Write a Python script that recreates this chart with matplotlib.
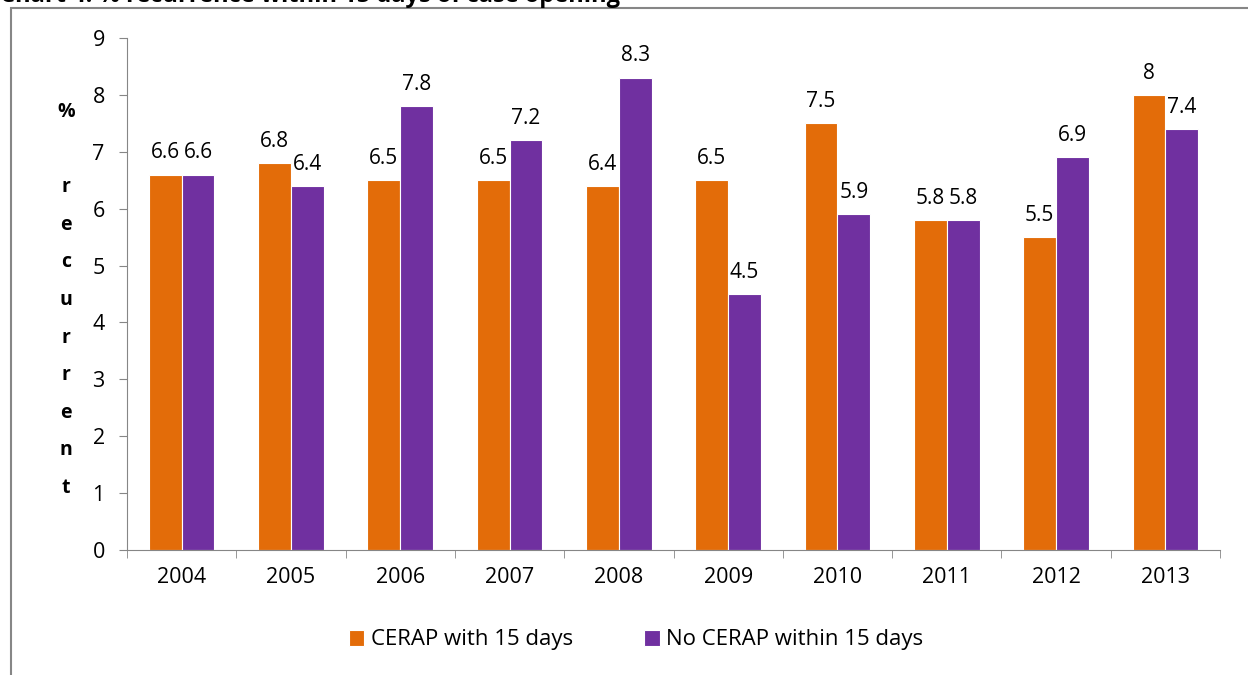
import matplotlib
matplotlib.use("Agg")
import matplotlib.pyplot as plt
from matplotlib.patches import Rectangle
import numpy as np

years = ["2004", "2005", "2006", "2007", "2008", "2009", "2010", "2011", "2012", "2013"]
cerap = [6.6, 6.8, 6.5, 6.5, 6.4, 6.5, 7.5, 5.8, 5.5, 8]
no_cerap = [6.6, 6.4, 7.8, 7.2, 8.3, 4.5, 5.9, 5.8, 6.9, 7.4]
series_names = ["CERAP with 15 days", "No CERAP within 15 days"]
title = "Chart 4: % recurrence within 15 days of case opening"
ylabel = "%\n\nr\ne\nc\nu\nr\nr\ne\nn\nt"

plt.rcParams['font.family'] = ['Open Sans', 'DejaVu Sans']

W, H = 1248, 675
fig = plt.figure(figsize=(W/100, H/100), dpi=100)
ax = fig.add_axes([127/W, 1-550/H, (1220-127)/W, (550-38)/H])

orange = "#E36C09"
purple = "#7030A0"
x = np.arange(len(years))
bw = 0.3
b1 = ax.bar(x - bw/2, cerap, bw, color=orange, edgecolor="white", linewidth=0.8, label=series_names[0])
b2 = ax.bar(x + bw/2, no_cerap, bw, color=purple, edgecolor="white", linewidth=0.8, label=series_names[1])

for bars, vals in ((b1, cerap), (b2, no_cerap)):
    for r, v in zip(bars, vals):
        ax.text(r.get_x() + r.get_width()/2, v + 0.2, f"{v:g}", ha="center", va="bottom", fontsize=15)

ax.set_xlim(-0.5, len(years) - 0.5)
ax.set_ylim(0, 9)
ax.set_yticks(range(0, 10))
ax.set_xticks(x)
ax.set_xticklabels(years)
ax.set_xticks(np.arange(-0.5, len(years)), minor=True)
ax.tick_params(axis="x", which="major", length=0, labelsize=15.5, pad=12)
ax.tick_params(axis="x", which="minor", length=6, color="#868686", direction="out")
ax.tick_params(axis="y", length=6, color="#868686", labelsize=15.5, pad=10)
for s in ("top", "right"):
    ax.spines[s].set_visible(False)
for s in ("left", "bottom"):
    ax.spines[s].set_color("#868686")

fig.text(66/W, 1-300/H, ylabel, ha="center", va="center", fontsize=14,
         fontweight="bold", linespacing=2.17)

fig.text(0/W, 1-1.5/H, title, ha="left", va="baseline", fontsize=17, fontweight="bold")

fig.patches.append(Rectangle((11/W, -0.1), 1.2, 1.1 - 8/H, transform=fig.transFigure,
                             fill=False, edgecolor="#868686", linewidth=1.5))

fig.legend(handles=[b1, b2], labels=series_names, loc="center", bbox_to_anchor=(636/W, 1-640/H),
           ncol=2, frameon=False, fontsize=16, handlelength=0.7, handleheight=0.7,
           handletextpad=0.3, columnspacing=3.2)

fig.savefig("out.png", dpi=100)
